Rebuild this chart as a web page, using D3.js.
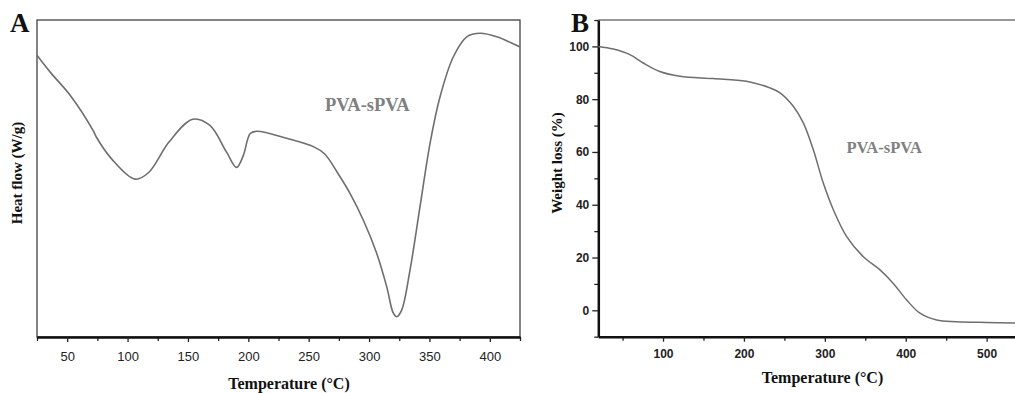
<!DOCTYPE html>
<html>
<head>
<meta charset="utf-8">
<script src="https://cdn.jsdelivr.net/npm/d3@7"></script>
<style>
  html, body { margin: 0; padding: 0; background: #fff; }
  svg { display: block; }
</style>
</head>
<body>
<div id="chart"></div>
<script>
// DSC curve (panel A): temperature (°C) and heat flow (arbitrary units)
const dscTemp = [25, 36.3, 53.2, 71.4, 74.1, 86.8, 106.3, 117.5, 134.3, 154, 168, 182, 190.3, 195.9, 201.6, 207.1, 232.4, 254.7, 263.1, 274.4, 284.2, 295.2, 306.3, 314.6, 320.1, 322.9, 327, 333.9, 342.2, 350.5, 358.8, 369.8, 380.9, 392, 405.7, 425];
const dscFlow = [88.9, 83.4, 75.9, 65.2, 63.1, 56.2, 49.8, 51.9, 61.5, 68.7, 66.8, 58.3, 53.5, 57.3, 64.2, 64.9, 62.6, 59.9, 57.8, 51.5, 45.3, 36.9, 26.4, 15.9, 7.5, 6.4, 8.5, 21.1, 41.1, 61.1, 75.8, 88.4, 94.7, 95.8, 94.7, 91.5];

// TGA curve (panel B): temperature (°C) and weight (%)
const tgaTemp = [20, 38.5, 59, 75.6, 96, 121, 162, 203, 232, 244.6, 261, 273.4, 285.8, 298.1, 310.5, 327, 347.6, 368.2, 384.6, 401.2, 417.6, 438.3, 463, 500, 535];
const tgaWeight = [100, 99, 96.9, 93.7, 90.5, 88.7, 87.8, 86.8, 84.3, 82.4, 77.3, 71, 60.8, 48.2, 38.1, 27.9, 20.3, 15.3, 10.2, 3.9, -1.1, -3.7, -4.3, -4.6, -4.8];

const aTicks = [50, 100, 150, 200, 250, 300, 350, 400];
const aMinor = [25, 75, 125, 175, 225, 275, 325, 375, 425];
const bTicks = [100, 200, 300, 400, 500];
const bMinor = [50, 150, 250, 350, 450];
const bYTicks = [0, 20, 40, 60, 80, 100];
const bYMinor = [-10, 10, 30, 50, 70, 90, 110];

const width = 1015, height = 393;
const lineColor = '#6e6e6e';
const serif = '"Liberation Serif", "Times New Roman", serif';
const sans = '"Liberation Sans", Arial, sans-serif';

const svg = d3.select('#chart').append('svg')
  .attr('width', width)
  .attr('height', height);

svg.append('rect').attr('width', width).attr('height', height).attr('fill', '#fff');

svg.append('defs').append('clipPath').attr('id', 'clipB')
  .append('rect').attr('x', 598).attr('y', 18).attr('width', 420).attr('height', 320);

// ---------- Panel A ----------
const xA = d3.scaleLinear().domain([25, 425]).range([37, 520]);
const yA = d3.scaleLinear().domain([0, 100]).range([337, 20]);

const gA = svg.append('g');

// thin frame
gA.append('rect')
  .attr('x', 37).attr('y', 20)
  .attr('width', 520 - 37).attr('height', 337 - 20)
  .attr('fill', 'none').attr('stroke', '#333').attr('stroke-width', 1.2);

// minor ticks
gA.append('g')
  .attr('transform', 'translate(0,337)')
  .call(d3.axisBottom(xA).tickValues(aMinor).tickSize(4).tickFormat(''))
  .call(g => g.select('.domain').remove())
  .call(g => g.selectAll('line').attr('stroke', '#222').attr('stroke-width', 1.3));

// major ticks + labels
gA.append('g')
  .attr('transform', 'translate(0,337)')
  .call(d3.axisBottom(xA).tickValues(aTicks).tickSize(5).tickPadding(10).tickSizeOuter(0))
  .call(g => g.select('.domain').attr('stroke', '#111').attr('stroke-width', 2.5))
  .call(g => g.selectAll('line').attr('stroke', '#222').attr('stroke-width', 1.3))
  .call(g => g.selectAll('text')
    .style('font-family', sans).style('font-size', '13px').attr('fill', '#222'));

const lineA = d3.line()
  .x((d, i) => xA(dscTemp[i]))
  .y(d => yA(d))
  .curve(d3.curveCatmullRom.alpha(0.5));

gA.append('path')
  .datum(dscFlow)
  .attr('d', lineA)
  .attr('fill', 'none')
  .attr('stroke', lineColor)
  .attr('stroke-width', 1.6);

gA.append('text')
  .attr('x', 325).attr('y', 111)
  .style('font-family', serif).style('font-size', '18.5px').style('font-weight', 'bold')
  .attr('fill', '#808080')
  .text('PVA-sPVA');

gA.append('text')
  .attr('x', 10).attr('y', 32)
  .style('font-family', serif).style('font-size', '27px').style('font-weight', 'bold')
  .attr('fill', '#111')
  .text('A');

gA.append('text')
  .attr('transform', 'translate(22,173) rotate(-90)')
  .attr('text-anchor', 'middle')
  .style('font-family', serif).style('font-size', '15px').style('font-weight', 'bold')
  .attr('fill', '#111')
  .text('Heat flow (W/g)');

gA.append('text')
  .attr('x', 289).attr('y', 389)
  .attr('text-anchor', 'middle')
  .style('font-family', serif).style('font-size', '16px').style('font-weight', 'bold')
  .attr('fill', '#111')
  .text('Temperature (°C)');

// ---------- Panel B ----------
const xB = d3.scaleLinear().domain([20, 540]).range([598.3, 1019]);
const yB = d3.scaleLinear().domain([-10, 110]).range([336.7, 20]);

const gB = svg.append('g');

gB.append('line')
  .attr('x1', 598.3).attr('x2', width).attr('y1', 20).attr('y2', 20)
  .attr('stroke', '#333').attr('stroke-width', 1.2);

// x minor ticks
gB.append('g')
  .attr('transform', 'translate(0,336.7)')
  .call(d3.axisBottom(xB).tickValues(bMinor).tickSize(4).tickFormat(''))
  .call(g => g.select('.domain').remove())
  .call(g => g.selectAll('line').attr('stroke', '#222').attr('stroke-width', 1.3));

gB.append('g')
  .attr('transform', 'translate(0,336.7)')
  .call(d3.axisBottom(xB).tickValues(bTicks).tickSize(5).tickPadding(8).tickSizeOuter(0))
  .call(g => g.select('.domain').attr('stroke', '#111').attr('stroke-width', 2.5))
  .call(g => g.selectAll('line').attr('stroke', '#222').attr('stroke-width', 1.3))
  .call(g => g.selectAll('text')
    .style('font-family', sans).style('font-size', '12px').style('font-weight', 'bold').attr('fill', '#222'));

// y minor ticks
gB.append('g')
  .attr('transform', 'translate(598.3,0)')
  .call(d3.axisLeft(yB).tickValues(bYMinor).tickSize(4).tickFormat(''))
  .call(g => g.select('.domain').remove())
  .call(g => g.selectAll('line').attr('stroke', '#222').attr('stroke-width', 1.3));

gB.append('g')
  .attr('transform', 'translate(598.3,0)')
  .call(d3.axisLeft(yB).tickValues(bYTicks).tickSize(6).tickPadding(3).tickSizeOuter(0))
  .call(g => g.select('.domain').attr('stroke', '#111').attr('stroke-width', 2.5))
  .call(g => g.selectAll('line').attr('stroke', '#222').attr('stroke-width', 1.3))
  .call(g => g.selectAll('text')
    .style('font-family', sans).style('font-size', '12px').style('font-weight', 'bold').attr('fill', '#222'));

const lineB = d3.line()
  .x((d, i) => xB(tgaTemp[i]))
  .y(d => yB(d))
  .curve(d3.curveCatmullRom.alpha(0.5));

gB.append('path')
  .datum(tgaWeight)
  .attr('clip-path', 'url(#clipB)')
  .attr('d', lineB)
  .attr('fill', 'none')
  .attr('stroke', lineColor)
  .attr('stroke-width', 1.5);

gB.append('text')
  .attr('x', 846.5).attr('y', 153)
  .style('font-family', serif).style('font-size', '16.5px').style('font-weight', 'bold')
  .attr('fill', '#808080')
  .text('PVA-sPVA');

gB.append('text')
  .attr('x', 571).attr('y', 32)
  .style('font-family', serif).style('font-size', '27px').style('font-weight', 'bold')
  .attr('fill', '#111')
  .text('B');

gB.append('text')
  .attr('transform', 'translate(562,163) rotate(-90)')
  .attr('text-anchor', 'middle')
  .style('font-family', serif).style('font-size', '15px').style('font-weight', 'bold')
  .attr('fill', '#111')
  .text('Weight loss (%)');

gB.append('text')
  .attr('x', 822.5).attr('y', 383)
  .attr('text-anchor', 'middle')
  .style('font-family', serif).style('font-size', '16px').style('font-weight', 'bold')
  .attr('fill', '#111')
  .text('Temperature (°C)');
</script>
</body>
</html>
